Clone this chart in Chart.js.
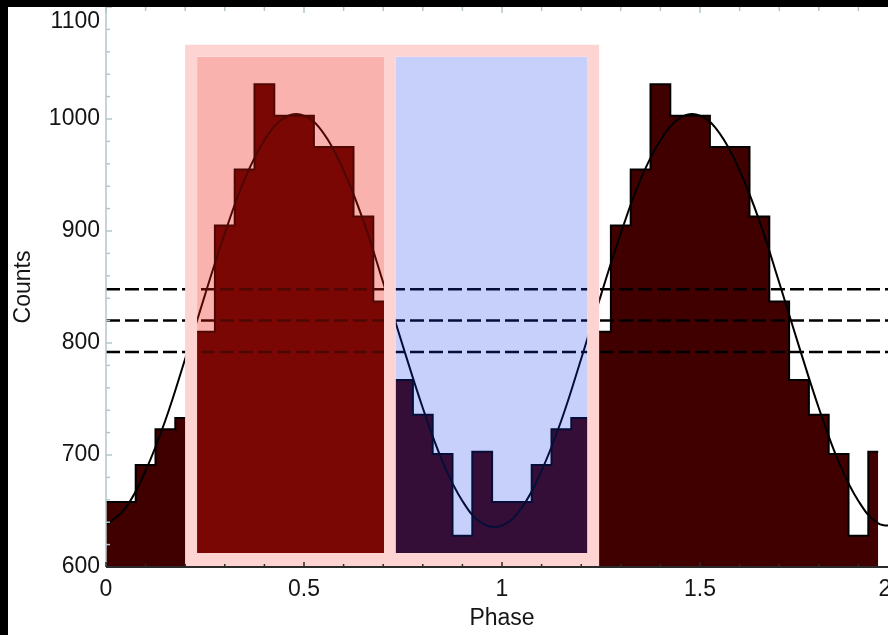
<!DOCTYPE html>
<html>
<head>
    <title>Phase-folded Counts</title>
    <script src="https://cdn.jsdelivr.net/npm/chart.js@4.4.0/dist/chart.umd.min.js"></script>
    <style>
        html, body {
            margin: 0;
            padding: 0;
        }
        body {
            background-color: #000;
            width: 888px;
            height: 635px;
            overflow: hidden;
            position: relative;
        }
        .plot {
            position: absolute;
            left: 8px;
            top: 7px;
            width: 892px;
            height: 628px;
            background-color: #fff;
        }
    </style>
</head>
<body>
    <div class="plot">
        <canvas id="phaseChart" width="892" height="628"></canvas>
    </div>

    <script>
        // Bin centres (two cycles) and counts per bin
        const phase = [0.00, 0.05, 0.10, 0.15, 0.20, 0.25, 0.30, 0.35, 0.40, 0.45,
                       0.50, 0.55, 0.60, 0.65, 0.70, 0.75, 0.80, 0.85, 0.90, 0.95,
                       1.00, 1.05, 1.10, 1.15, 1.20, 1.25, 1.30, 1.35, 1.40, 1.45,
                       1.50, 1.55, 1.60, 1.65, 1.70, 1.75, 1.80, 1.85, 1.90, 1.95];
        const counts = [658, 658, 691, 723, 733, 810, 905, 955, 1031, 1003,
                        1003, 975, 975, 913, 837, 767, 736, 701, 628, 703,
                        658, 658, 691, 723, 733, 810, 905, 955, 1031, 1003,
                        1003, 975, 975, 913, 837, 767, 736, 701, 628, 703];

        // Sinusoid fit, sampled every 0.05 in phase
        const fitPhase = [0.00, 0.05, 0.10, 0.15, 0.20, 0.25, 0.30, 0.35, 0.40, 0.45,
                          0.50, 0.55, 0.60, 0.65, 0.70, 0.75, 0.80, 0.85, 0.90, 0.95,
                          1.00, 1.05, 1.10, 1.15, 1.20, 1.25, 1.30, 1.35, 1.40, 1.45,
                          1.50, 1.55, 1.60, 1.65, 1.70, 1.75, 1.80, 1.85, 1.90, 1.95, 2.00];
        const fitCounts = [637, 653, 686, 731, 786, 843, 898, 946, 981, 1001,
                           1003, 987, 954, 909, 854, 797, 742, 694, 659, 639,
                           637, 653, 686, 731, 786, 843, 898, 946, 981, 1001,
                           1003, 987, 954, 909, 854, 797, 742, 694, 659, 639, 637];

        // Horizontal reference levels (dashed)
        const levels = [848, 820, 792];

        // On / off phase windows and their count extent
        const onPhase = [0.23, 0.702];
        const offPhase = [0.732, 1.215];
        const bandCounts = [612.5, 1055.5];

        // Axis ticks
        const xTicks = [0, 0.5, 1, 1.5, 2];
        const xTickLabels = ['0', '0.5', '1', '1.5', '2'];
        const yTicks = [600, 700, 800, 900, 1000, 1100];

        const FONT = '23px "Liberation Sans", Arial, sans-serif';

        function seg(ctx, x1, y1, x2, y2) {
            ctx.beginPath();
            ctx.moveTo(x1, y1);
            ctx.lineTo(x2, y2);
            ctx.stroke();
        }

        const decorations = {
            id: 'decorations',
            afterDatasetsDraw(chart) {
                const {ctx, chartArea: a, scales: {x, y}} = chart;
                const box = (range) => ({
                    l: x.getPixelForValue(range[0]),
                    r: x.getPixelForValue(range[1]),
                    t: y.getPixelForValue(bandCounts[1]),
                    b: y.getPixelForValue(bandCounts[0])
                });
                const on = box(onPhase);
                const off = box(offPhase);

                ctx.save();
                ctx.fillStyle = 'rgba(240, 20, 10, 0.33)';
                ctx.fillRect(on.l, on.t, on.r - on.l, on.b - on.t);
                ctx.fillStyle = 'rgba(20, 60, 235, 0.24)';
                ctx.fillRect(off.l, off.t, off.r - off.l, off.b - off.t);

                // pink frame round both windows
                const pad = 12;
                ctx.beginPath();
                ctx.rect(on.l - pad, on.t - pad, off.r + pad - (on.l - pad), a.bottom - (on.t - pad));
                ctx.rect(on.l, on.t, on.r - on.l, on.b - on.t);
                ctx.rect(off.l, off.t, off.r - off.l, off.b - off.t);
                ctx.fillStyle = '#fdd4d2';
                ctx.fill('evenodd');
                ctx.restore();
            },
            afterDraw(chart) {
                const {ctx, chartArea: a, scales: {x, y}} = chart;
                ctx.save();

                // left axis + inward ticks
                ctx.strokeStyle = '#b3c6ca';
                ctx.lineWidth = 1.5;
                seg(ctx, a.left, a.top, a.left, a.bottom);
                for (let v = 600; v <= 1100; v += 20) {
                    const py = y.getPixelForValue(v);
                    seg(ctx, a.left, py, a.left + (v % 100 === 0 ? 6 : 4), py);
                }
                // top ticks
                for (let i = 0; i <= 20; i++) {
                    const px = x.getPixelForValue(i / 10);
                    seg(ctx, px, a.top, px, a.top + (i % 5 === 0 ? 6 : 4));
                }

                // bottom axis
                ctx.strokeStyle = '#2b2b2b';
                ctx.lineWidth = 2;
                seg(ctx, a.left, a.bottom, a.right, a.bottom);
                ctx.lineWidth = 1.5;
                for (let i = 0; i <= 20; i++) {
                    const px = x.getPixelForValue(i / 10);
                    seg(ctx, px, a.bottom, px, a.bottom - (i % 5 === 0 ? 5 : 3));
                }

                // tick labels (end labels pulled inside the frame)
                ctx.fillStyle = '#151515';
                ctx.font = FONT;
                ctx.textAlign = 'right';
                ctx.textBaseline = 'middle';
                yTicks.forEach(v => {
                    const py = Math.max(y.getPixelForValue(v), a.top + 15);
                    ctx.fillText(String(v), a.left - 6, py);
                });
                ctx.textAlign = 'center';
                xTicks.forEach((v, i) => {
                    const px = Math.min(x.getPixelForValue(v), a.right - 13);
                    ctx.fillText(xTickLabels[i], px, a.bottom + 23);
                });

                // axis titles
                ctx.fillText('Phase', (a.left + a.right) / 2, a.bottom + 52);
                ctx.translate(16, (a.top + a.bottom) / 2);
                ctx.rotate(-Math.PI / 2);
                ctx.fillText('Counts', 0, 0);
                ctx.restore();
            }
        };

        const levelSets = levels.map(v => ({
            label: 'level ' + v,
            data: [{x: 0, y: v}, {x: 2, y: v}],
            borderColor: '#000',
            borderWidth: 2.5,
            borderDash: [14, 5],
            pointRadius: 0,
            fill: false,
            order: 0
        }));

        const ctx = document.getElementById('phaseChart').getContext('2d');
        const chart = new Chart(ctx, {
            type: 'line',
            data: {
                datasets: [
                    {
                        label: 'Counts',
                        data: phase.map((p, i) => ({x: p, y: counts[i]})),
                        stepped: 'middle',
                        fill: 'start',
                        backgroundColor: '#400000',
                        borderColor: '#000',
                        borderWidth: 2,
                        pointRadius: 0,
                        order: 3
                    },
                    {
                        label: 'Fit',
                        data: fitPhase.map((p, i) => ({x: p, y: fitCounts[i]})),
                        borderColor: '#000',
                        borderWidth: 2,
                        tension: 0.4,
                        pointRadius: 0,
                        fill: false,
                        order: 1
                    },
                    ...levelSets
                ]
            },
            options: {
                responsive: false,
                animation: false,
                layout: {
                    autoPadding: false,
                    padding: {left: 98, right: 2, top: 0, bottom: 68}
                },
                scales: {
                    x: {type: 'linear', min: 0, max: 2, display: false},
                    y: {min: 600, max: 1100, display: false}
                },
                plugins: {
                    legend: {display: false},
                    tooltip: {enabled: false}
                }
            },
            plugins: [decorations]
        });
    </script>
</body>
</html>
